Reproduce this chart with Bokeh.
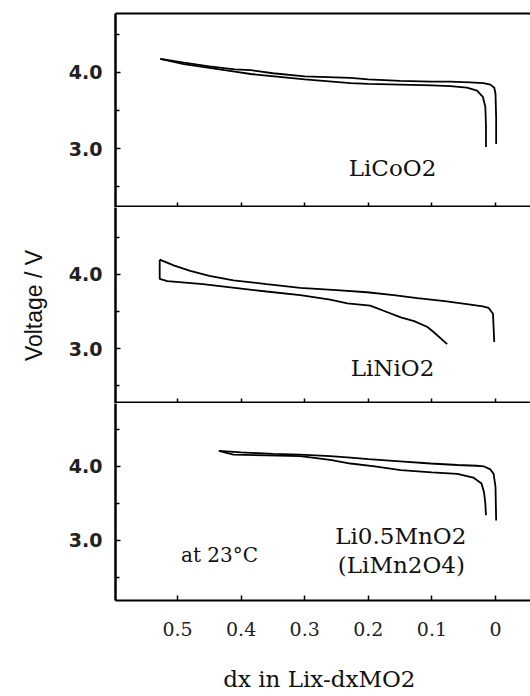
import math
from bokeh.plotting import figure
from bokeh.models import Range1d, LinearAxis, FixedTicker, PrintfTickFormatter, Label
from bokeh.layouts import column
from bokeh.embed import file_html
from bokeh.resources import INLINE

# ---------------- data ----------------
x_ticks = [0.5, 0.4, 0.3, 0.2, 0.1, 0.0]
y_major = [3.0, 4.0]
y_minor = [2.5, 3.5, 4.5]

# LiCoO2
co_charge_x = [0.527, 0.49, 0.45, 0.41, 0.385, 0.35, 0.30, 0.228, 0.20, 0.15, 0.10, 0.071, 0.04, 0.019, 0.008, 0.002, 0.0, -0.001, -0.001]
co_charge_v = [4.18, 4.13, 4.08, 4.04, 4.03, 3.99, 3.95, 3.93, 3.91, 3.89, 3.88, 3.88, 3.87, 3.86, 3.84, 3.80, 3.72, 3.40, 3.06]
co_dis_x = [0.527, 0.49, 0.45, 0.41, 0.385, 0.36, 0.30, 0.228, 0.20, 0.15, 0.10, 0.071, 0.045, 0.029, 0.020, 0.016, 0.015, 0.015]
co_dis_v = [4.18, 4.11, 4.06, 4.01, 3.98, 3.96, 3.91, 3.86, 3.85, 3.84, 3.83, 3.82, 3.80, 3.76, 3.68, 3.55, 3.30, 3.02]

# LiNiO2
ni_charge_x = [0.528, 0.505, 0.480, 0.45, 0.412, 0.36, 0.307, 0.25, 0.202, 0.16, 0.123, 0.08, 0.045, 0.02, 0.011, 0.004, 0.002]
ni_charge_v = [4.20, 4.12, 4.05, 3.98, 3.92, 3.87, 3.82, 3.79, 3.76, 3.72, 3.68, 3.64, 3.60, 3.57, 3.55, 3.47, 3.09]
ni_dis_x = [0.528, 0.528, 0.516, 0.46, 0.41, 0.36, 0.307, 0.26, 0.233, 0.197, 0.176, 0.149, 0.128, 0.107, 0.097, 0.076]
ni_dis_v = [4.20, 3.94, 3.91, 3.87, 3.82, 3.77, 3.72, 3.66, 3.61, 3.58, 3.51, 3.42, 3.37, 3.29, 3.22, 3.06]

# Li0.5MnO2 (LiMn2O4)
mn_charge_x = [0.435, 0.40, 0.35, 0.307, 0.26, 0.228, 0.20, 0.15, 0.102, 0.06, 0.03, 0.018, 0.008, 0.003, 0.0, -0.001]
mn_charge_v = [4.21, 4.19, 4.17, 4.16, 4.14, 4.12, 4.10, 4.07, 4.04, 4.02, 4.01, 4.00, 3.96, 3.90, 3.72, 3.27]
mn_dis_x = [0.435, 0.412, 0.36, 0.307, 0.26, 0.228, 0.19, 0.149, 0.10, 0.06, 0.035, 0.022, 0.018, 0.016, 0.015]
mn_dis_v = [4.21, 4.16, 4.15, 4.14, 4.09, 4.04, 4.00, 3.95, 3.92, 3.90, 3.85, 3.77, 3.65, 3.50, 3.34]

SERIF = "DejaVu Serif"
X_RANGE = (0.5975, -0.055)


def make_panel(height, yr, top_b, bottom_b, show_xlabels=False, top_axis=False, ylabel=None):
    p = figure(width=530, height=height,
               x_range=Range1d(*X_RANGE), y_range=Range1d(*yr),
               output_backend="svg", toolbar_location=None,
               x_axis_location=None, y_axis_location=None,
               min_border_left=115, min_border_right=0,
               min_border_top=top_b, min_border_bottom=bottom_b)
    p.outline_line_color = None
    p.grid.visible = False
    p.background_fill_color = "white"
    p.border_fill_color = "white"

    yax = LinearAxis(ticker=FixedTicker(ticks=y_major, minor_ticks=y_minor),
                     formatter=PrintfTickFormatter(format="%.1f"))
    yax.axis_line_width = 2.5
    yax.major_tick_in = 5
    yax.major_tick_out = 0
    yax.minor_tick_in = 4
    yax.minor_tick_out = 0
    yax.major_tick_line_width = 1.5
    yax.minor_tick_line_width = 1.5
    yax.major_label_standoff = 13
    yax.major_label_text_font = "DejaVu Sans"
    yax.major_label_text_font_style = "bold"
    yax.major_label_text_font_size = "19px"
    yax.major_label_text_color = "#222222"
    if ylabel:
        yax.axis_label = ylabel
        yax.axis_label_text_font = "Liberation Sans"
        yax.axis_label_text_font_style = "normal"
        yax.axis_label_text_font_size = "23px"
        yax.axis_label_text_color = "#111111"
        yax.axis_label_standoff = 19
    p.add_layout(yax, "left")

    xax = LinearAxis(ticker=FixedTicker(ticks=x_ticks),
                     formatter=PrintfTickFormatter(format="%.1f"))
    xax.major_tick_in = 5
    xax.major_tick_out = 0
    xax.major_tick_line_width = 1.5
    xax.minor_tick_line_color = None
    if show_xlabels:
        xax.axis_line_width = 2
        xax.major_label_overrides = {0.0: "0"}
        xax.major_label_standoff = 21
        xax.major_label_text_font = SERIF
        xax.major_label_text_font_size = "19px"
        xax.major_label_text_color = "#222222"
        xax.axis_label = "dx  in Lix-dxMO2"
        xax.axis_label_text_font = SERIF
        xax.axis_label_text_font_style = "normal"
        xax.axis_label_text_font_size = "23px"
        xax.axis_label_text_color = "#111111"
        xax.axis_label_standoff = 27
    else:
        # divider line: half of it is cut at the canvas edge
        xax.axis_line_width = 4
        xax.major_label_text_font_size = "0px"
        xax.major_label_text_color = None
        xax.major_label_standoff = 0
    p.add_layout(xax, "below")

    if top_axis:
        tax = LinearAxis(ticker=FixedTicker(ticks=[]))
        tax.axis_line_width = 2
        tax.major_tick_in = 0
        tax.major_tick_out = 0
        tax.major_label_text_font_size = "0px"
        tax.major_label_text_color = None
        tax.major_label_standoff = 0
        p.add_layout(tax, "above")
    return p


def add_text(p, x, y, txt, size, font=SERIF):
    p.add_layout(Label(x=x, y=y, text=txt, text_font=font, text_font_size=size,
                       text_align="center", text_baseline="middle", text_color="#111111"))


# ---------------- panels ----------------
p1 = make_panel(207, (2.224, 4.776), 13, 0, top_axis=True)
p1.line(co_charge_x, co_charge_v, line_color="black", line_width=1.8)
p1.line(co_dis_x, co_dis_v, line_color="black", line_width=1.8)
add_text(p1, 0.162, 2.75, "LiCoO2", "23px")

p2 = make_panel(196, (2.257, 4.905), 0, 0, ylabel="Voltage / V")
p2.line(ni_charge_x, ni_charge_v, line_color="black", line_width=1.8)
p2.line(ni_dis_x, ni_dis_v, line_color="black", line_width=1.8)
add_text(p2, 0.162, 2.73, "LiNiO2", "23px")

p3 = make_panel(293, (2.189, 4.851), 0, 96, show_xlabels=True)
p3.line(mn_charge_x, mn_charge_v, line_color="black", line_width=1.8)
p3.line(mn_dis_x, mn_dis_v, line_color="black", line_width=1.8)
add_text(p3, 0.149, 3.054, "Li0.5MnO2", "23px")
add_text(p3, 0.148, 2.662, "(LiMn2O4)", "23px")
add_text(p3, 0.434, 2.81, "at 23°C", "20px")

layout = column(p1, p2, p3)
open("out.html", "w").write(file_html(layout, INLINE))
